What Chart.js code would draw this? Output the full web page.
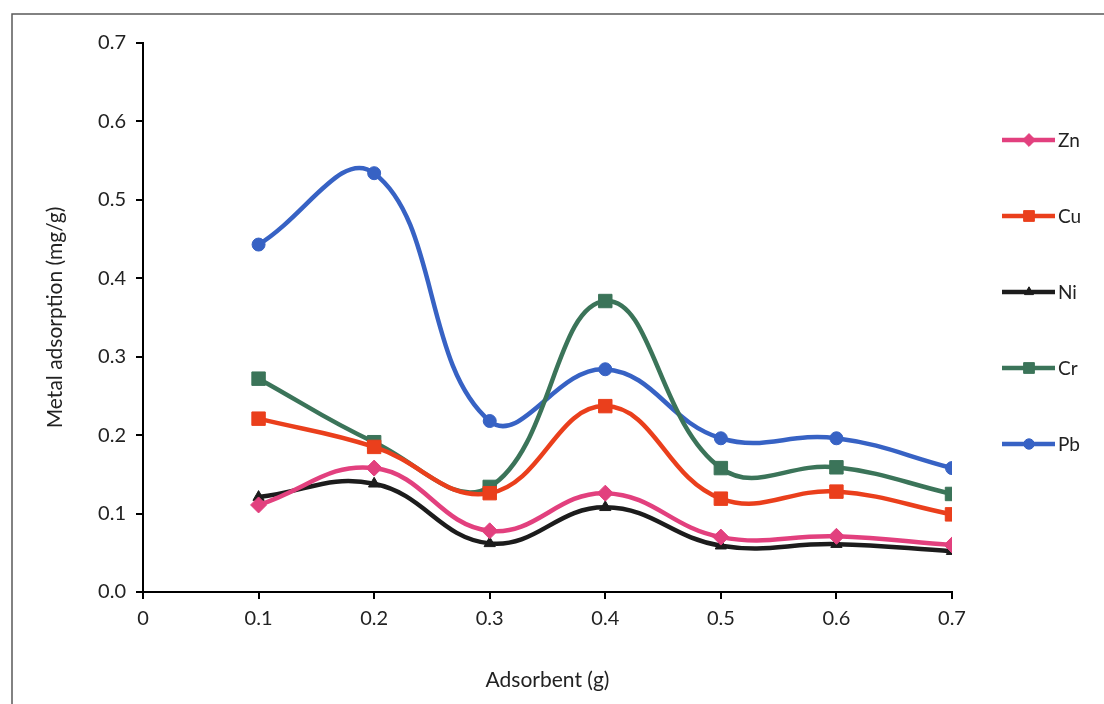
<!DOCTYPE html>
<html>
<head>
<meta charset="utf-8">
<script src="https://cdn.jsdelivr.net/npm/chart.js@4.4.1/dist/chart.umd.min.js"></script>
<style>
html,body{margin:0;padding:0;background:#fff;}
#wrap{position:relative;width:1104px;height:704px;}
canvas{display:block;}
</style>
</head>
<body>
<div id="wrap"><canvas id="c" width="1104" height="704"></canvas></div>
<script>
const xValues = [0.1, 0.2, 0.3, 0.4, 0.5, 0.6, 0.7];
const seriesNames = ["Zn", "Cu", "Ni", "Cr", "Pb"];
const zn = [0.111, 0.158, 0.078, 0.126, 0.070, 0.071, 0.060];
const cu = [0.221, 0.185, 0.126, 0.237, 0.119, 0.128, 0.099];
const ni = [0.121, 0.138, 0.062, 0.108, 0.059, 0.061, 0.052];
const cr = [0.272, 0.191, 0.134, 0.371, 0.158, 0.159, 0.125];
const pb = [0.443, 0.534, 0.218, 0.284, 0.196, 0.196, 0.158];
const xTickValues = [0, 0.1, 0.2, 0.3, 0.4, 0.5, 0.6, 0.7];
const yTickValues = [0, 0.1, 0.2, 0.3, 0.4, 0.5, 0.6, 0.7];

const seriesValues = [zn, cu, ni, cr, pb];
const colors = ["#E2407E", "#EA3F1C", "#1C1C1C", "#3B7459", "#3762C4"];
const markers = ["rectRot", "rect", "triangle", "rect", "circle"];
const radii = [8, 9.5, 6.5, 9.5, 6.5];

const FONT = "Lato, 'Open Sans', sans-serif";

const datasets = seriesNames.map((n, i) => ({
  label: n,
  data: xValues.map((x, j) => ({x: x, y: seriesValues[i][j]})),
  borderColor: colors[i],
  backgroundColor: colors[i],
  pointBackgroundColor: colors[i],
  pointBorderColor: colors[i],
  pointStyle: markers[i],
  pointRadius: radii[i],
  pointBorderWidth: 1,
  borderWidth: 4.5,
  tension: 0.42,
  fill: false
}));

const framePlugin = {
  id: 'frame',
  beforeDraw(chart) {
    const ctx = chart.ctx;
    ctx.save();
    ctx.fillStyle = '#fff';
    ctx.fillRect(0, 0, chart.width, chart.height);
    ctx.strokeStyle = '#5a5a5a';
    ctx.lineWidth = 1.5;
    ctx.beginPath();
    ctx.moveTo(12, 704);
    ctx.lineTo(12, 14);
    ctx.lineTo(1104, 14);
    ctx.stroke();
    ctx.restore();
  }
};

const legendPlugin = {
  id: 'customLegend',
  afterDraw(chart) {
    const ctx = chart.ctx;
    const ys = [140, 216, 292, 368, 444];
    ctx.save();
    chart.data.datasets.forEach((ds, i) => {
      const y = ys[i];
      ctx.strokeStyle = ds.borderColor;
      ctx.lineWidth = 4.5;
      ctx.beginPath();
      ctx.moveTo(1002, y);
      ctx.lineTo(1055, y);
      ctx.stroke();
      ctx.fillStyle = ds.borderColor;
      ctx.strokeStyle = ds.borderColor;
      ctx.lineWidth = 1;
      Chart.helpers.drawPoint(ctx, {pointStyle: ds.pointStyle, radius: ds.pointRadius * 0.8, rotation: 0, borderWidth: 1}, 1029, y);
      ctx.fillStyle = '#222';
      ctx.font = "19px " + FONT;
      ctx.textAlign = 'left';
      ctx.textBaseline = 'middle';
      ctx.fillText(ds.label, 1058, y + 1);
    });
    ctx.restore();
  }
};

new Chart(document.getElementById('c'), {
  type: 'line',
  data: { datasets },
  plugins: [framePlugin, legendPlugin],
  options: {
    responsive: false,
    animation: false,
    devicePixelRatio: 1,
    layout: { padding: { left: 0, top: 43, right: 152, bottom: 0 } },
    plugins: { legend: { display: false }, tooltip: { enabled: false } },
    scales: {
      x: {
        type: 'linear',
        min: 0, max: 0.7,
        afterFit(scale) { scale.height = 112; },
        afterBuildTicks(scale) { scale.ticks = xTickValues.map(v => ({value: v})); },
        ticks: {
          color: '#222',
          font: { size: 20, family: FONT },
          padding: 8,
          callback: v => (v === 0 ? '0' : Number(v).toFixed(1))
        },
        grid: { drawOnChartArea: false, drawTicks: true, tickLength: 7, color: '#000', lineWidth: 2 },
        border: { display: true, color: '#000', width: 2 },
        title: {
          display: true, text: 'Adsorbent (g)', color: '#222',
          font: { size: 21, family: FONT },
          padding: { top: 0, bottom: 11 }
        }
      },
      y: {
        type: 'linear',
        min: 0, max: 0.7,
        afterFit(scale) { scale.width = 143; },
        afterBuildTicks(scale) { scale.ticks = yTickValues.map(v => ({value: v})); },
        ticks: {
          color: '#222',
          font: { size: 20, family: FONT },
          padding: 10,
          callback: v => Number(v).toFixed(1)
        },
        grid: { drawOnChartArea: false, drawTicks: true, tickLength: 7, color: '#000', lineWidth: 2 },
        border: { display: true, color: '#000', width: 2 },
        title: {
          display: true, text: 'Metal adsorption (mg/g)', color: '#222',
          font: { size: 21, family: FONT },
          padding: { top: 43, bottom: 0 }
        }
      }
    }
  }
});
</script>
</body>
</html>
